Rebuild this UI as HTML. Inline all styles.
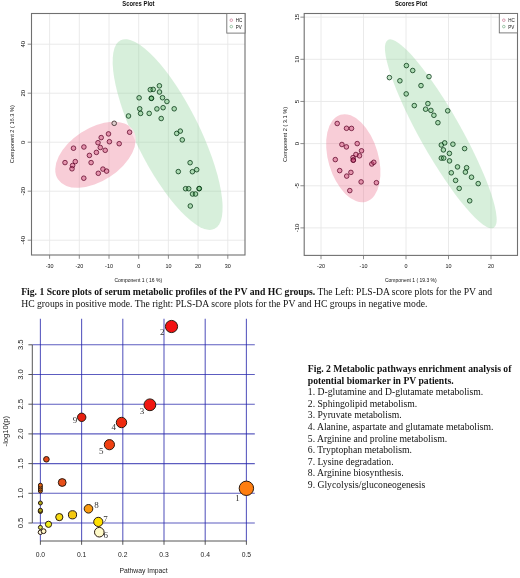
<!DOCTYPE html>
<html><head><meta charset="utf-8"><style>
html,body{margin:0;padding:0;background:#fff;}
body{width:520px;height:578px;position:relative;overflow:hidden;filter:blur(0.3px);}
svg{position:absolute;left:0;top:0;}
.tk{font-family:"Liberation Sans",sans-serif;font-size:6.1px;fill:#111;dominant-baseline:central;}
.ax{font-family:"Liberation Sans",sans-serif;font-size:5.65px;fill:#111;dominant-baseline:central;}
.ttl{font-family:"Liberation Sans",sans-serif;font-size:6.6px;font-weight:bold;fill:#111;}
.lg{font-family:"Liberation Sans",sans-serif;font-size:5.1px;fill:#111;}
.bt{font-family:"Liberation Sans",sans-serif;font-size:7.6px;fill:#222;dominant-baseline:central;}
.bt2{font-family:"Liberation Sans",sans-serif;font-size:7.0px;fill:#222;dominant-baseline:central;}
.bt3{font-family:"Liberation Sans",sans-serif;font-size:7.5px;fill:#222;dominant-baseline:central;}
.num{font-family:"Liberation Serif",serif;font-size:9px;fill:#333;}
.cap{position:absolute;font-family:"Liberation Serif",serif;font-size:9.67px;line-height:11.3px;color:#111;white-space:nowrap;}
.cap b{font-weight:bold;}
.f2{position:absolute;left:307.8px;top:363px;font-family:"Liberation Serif",serif;font-size:9.67px;line-height:11.6px;color:#111;white-space:nowrap;}
</style></head><body>
<svg width="520" height="578" viewBox="0 0 520 578">
<rect width="520" height="578" fill="#fff"/>
<line x1="49.6" y1="13.5" x2="49.6" y2="255" stroke="#e8e8e8" stroke-width="0.9"/>
<line x1="79.3" y1="13.5" x2="79.3" y2="255" stroke="#e8e8e8" stroke-width="0.9"/>
<line x1="109" y1="13.5" x2="109" y2="255" stroke="#e8e8e8" stroke-width="0.9"/>
<line x1="138.7" y1="13.5" x2="138.7" y2="255" stroke="#e8e8e8" stroke-width="0.9"/>
<line x1="168.4" y1="13.5" x2="168.4" y2="255" stroke="#e8e8e8" stroke-width="0.9"/>
<line x1="198.1" y1="13.5" x2="198.1" y2="255" stroke="#e8e8e8" stroke-width="0.9"/>
<line x1="227.8" y1="13.5" x2="227.8" y2="255" stroke="#e8e8e8" stroke-width="0.9"/>
<line x1="31.5" y1="240.2" x2="245.0" y2="240.2" stroke="#e8e8e8" stroke-width="0.9"/>
<line x1="31.5" y1="191.2" x2="245.0" y2="191.2" stroke="#e8e8e8" stroke-width="0.9"/>
<line x1="31.5" y1="142.2" x2="245.0" y2="142.2" stroke="#e8e8e8" stroke-width="0.9"/>
<line x1="31.5" y1="93.2" x2="245.0" y2="93.2" stroke="#e8e8e8" stroke-width="0.9"/>
<line x1="31.5" y1="44.2" x2="245.0" y2="44.2" stroke="#e8e8e8" stroke-width="0.9"/>
<defs><mask id="mg" maskUnits="userSpaceOnUse" x="0" y="0" width="520" height="300"><rect width="520" height="300" fill="#fff"/><ellipse cx="95.45" cy="154.74" rx="44.86" ry="26.4" transform="rotate(-33.28 95.45 154.74)" fill="#000"/></mask><clipPath id="cp"><ellipse cx="95.45" cy="154.74" rx="44.86" ry="26.4" transform="rotate(-33.28 95.45 154.74)"/></clipPath></defs>
<g mask="url(#mg)"><ellipse cx="167.63" cy="134.57" rx="105.35" ry="31.9" transform="rotate(63.51 167.63 134.57)" fill="rgba(141,209,152,0.35)"/></g>
<ellipse cx="95.45" cy="154.74" rx="44.86" ry="26.4" transform="rotate(-33.28 95.45 154.74)" fill="rgba(235,112,141,0.35)"/>
<g clip-path="url(#cp)"><ellipse cx="167.63" cy="134.57" rx="105.35" ry="31.9" transform="rotate(63.51 167.63 134.57)" fill="rgba(255,255,255,0.45)"/></g>
<circle cx="129.6" cy="132.2" r="2.3" fill="rgba(200,60,110,0.4)" stroke="rgba(90,0,35,0.78)" stroke-width="0.95"/>
<circle cx="108.5" cy="133.9" r="2.3" fill="rgba(200,60,110,0.4)" stroke="rgba(90,0,35,0.78)" stroke-width="0.95"/>
<circle cx="101.2" cy="137.6" r="2.3" fill="rgba(200,60,110,0.4)" stroke="rgba(90,0,35,0.78)" stroke-width="0.95"/>
<circle cx="98.0" cy="142.7" r="2.3" fill="rgba(200,60,110,0.4)" stroke="rgba(90,0,35,0.78)" stroke-width="0.95"/>
<circle cx="109.4" cy="141.7" r="2.3" fill="rgba(200,60,110,0.4)" stroke="rgba(90,0,35,0.78)" stroke-width="0.95"/>
<circle cx="119.2" cy="143.7" r="2.3" fill="rgba(200,60,110,0.4)" stroke="rgba(90,0,35,0.78)" stroke-width="0.95"/>
<circle cx="100.3" cy="147.5" r="2.3" fill="rgba(200,60,110,0.4)" stroke="rgba(90,0,35,0.78)" stroke-width="0.95"/>
<circle cx="105.2" cy="150.3" r="2.3" fill="rgba(200,60,110,0.4)" stroke="rgba(90,0,35,0.78)" stroke-width="0.95"/>
<circle cx="96.4" cy="152.4" r="2.3" fill="rgba(200,60,110,0.4)" stroke="rgba(90,0,35,0.78)" stroke-width="0.95"/>
<circle cx="83.9" cy="147.0" r="2.3" fill="rgba(200,60,110,0.4)" stroke="rgba(90,0,35,0.78)" stroke-width="0.95"/>
<circle cx="73.5" cy="148.2" r="2.3" fill="rgba(200,60,110,0.4)" stroke="rgba(90,0,35,0.78)" stroke-width="0.95"/>
<circle cx="89.4" cy="155.4" r="2.3" fill="rgba(200,60,110,0.4)" stroke="rgba(90,0,35,0.78)" stroke-width="0.95"/>
<circle cx="91.1" cy="162.6" r="2.3" fill="rgba(200,60,110,0.4)" stroke="rgba(90,0,35,0.78)" stroke-width="0.95"/>
<circle cx="75.3" cy="161.6" r="2.3" fill="rgba(200,60,110,0.4)" stroke="rgba(90,0,35,0.78)" stroke-width="0.95"/>
<circle cx="65.0" cy="162.6" r="2.3" fill="rgba(200,60,110,0.4)" stroke="rgba(90,0,35,0.78)" stroke-width="0.95"/>
<circle cx="72.6" cy="165.5" r="2.3" fill="rgba(200,60,110,0.4)" stroke="rgba(90,0,35,0.78)" stroke-width="0.95"/>
<circle cx="72.0" cy="168.8" r="2.3" fill="rgba(200,60,110,0.4)" stroke="rgba(90,0,35,0.78)" stroke-width="0.95"/>
<circle cx="102.9" cy="169.1" r="2.3" fill="rgba(200,60,110,0.4)" stroke="rgba(90,0,35,0.78)" stroke-width="0.95"/>
<circle cx="106.6" cy="171.1" r="2.3" fill="rgba(200,60,110,0.4)" stroke="rgba(90,0,35,0.78)" stroke-width="0.95"/>
<circle cx="98.3" cy="173.3" r="2.3" fill="rgba(200,60,110,0.4)" stroke="rgba(90,0,35,0.78)" stroke-width="0.95"/>
<circle cx="83.8" cy="178.2" r="2.3" fill="rgba(200,60,110,0.4)" stroke="rgba(90,0,35,0.78)" stroke-width="0.95"/>
<circle cx="128.5" cy="116.0" r="2.3" fill="rgba(90,180,100,0.35)" stroke="rgba(0,50,15,0.8)" stroke-width="0.95"/>
<circle cx="139.1" cy="97.8" r="2.3" fill="rgba(90,180,100,0.35)" stroke="rgba(0,50,15,0.8)" stroke-width="0.95"/>
<circle cx="139.7" cy="108.8" r="2.3" fill="rgba(90,180,100,0.35)" stroke="rgba(0,50,15,0.8)" stroke-width="0.95"/>
<circle cx="140.6" cy="113.4" r="2.3" fill="rgba(90,180,100,0.35)" stroke="rgba(0,50,15,0.8)" stroke-width="0.95"/>
<circle cx="149.2" cy="113.4" r="2.3" fill="rgba(90,180,100,0.35)" stroke="rgba(0,50,15,0.8)" stroke-width="0.95"/>
<circle cx="150.3" cy="89.7" r="2.3" fill="rgba(90,180,100,0.35)" stroke="rgba(0,50,15,0.8)" stroke-width="0.95"/>
<circle cx="153.2" cy="89.4" r="2.3" fill="rgba(90,180,100,0.35)" stroke="rgba(0,50,15,0.8)" stroke-width="0.95"/>
<circle cx="159.4" cy="85.8" r="2.3" fill="rgba(90,180,100,0.35)" stroke="rgba(0,50,15,0.8)" stroke-width="0.95"/>
<circle cx="159.5" cy="92.0" r="2.3" fill="rgba(90,180,100,0.35)" stroke="rgba(0,50,15,0.8)" stroke-width="0.95"/>
<circle cx="151.5" cy="98.2" r="2.3" fill="rgba(90,180,100,0.35)" stroke="rgba(0,50,15,0.8)" stroke-width="0.95"/>
<circle cx="151.3" cy="98.4" r="2.3" fill="rgba(90,180,100,0.35)" stroke="rgba(0,50,15,0.8)" stroke-width="0.95"/>
<circle cx="162.5" cy="97.7" r="2.3" fill="rgba(90,180,100,0.35)" stroke="rgba(0,50,15,0.8)" stroke-width="0.95"/>
<circle cx="166.9" cy="101.5" r="2.3" fill="rgba(90,180,100,0.35)" stroke="rgba(0,50,15,0.8)" stroke-width="0.95"/>
<circle cx="156.9" cy="108.9" r="2.3" fill="rgba(90,180,100,0.35)" stroke="rgba(0,50,15,0.8)" stroke-width="0.95"/>
<circle cx="163.1" cy="107.7" r="2.3" fill="rgba(90,180,100,0.35)" stroke="rgba(0,50,15,0.8)" stroke-width="0.95"/>
<circle cx="174.2" cy="108.8" r="2.3" fill="rgba(90,180,100,0.35)" stroke="rgba(0,50,15,0.8)" stroke-width="0.95"/>
<circle cx="161.2" cy="118.5" r="2.3" fill="rgba(90,180,100,0.35)" stroke="rgba(0,50,15,0.8)" stroke-width="0.95"/>
<circle cx="176.7" cy="133.4" r="2.3" fill="rgba(90,180,100,0.35)" stroke="rgba(0,50,15,0.8)" stroke-width="0.95"/>
<circle cx="180.3" cy="131.1" r="2.3" fill="rgba(90,180,100,0.35)" stroke="rgba(0,50,15,0.8)" stroke-width="0.95"/>
<circle cx="182.3" cy="139.9" r="2.3" fill="rgba(90,180,100,0.35)" stroke="rgba(0,50,15,0.8)" stroke-width="0.95"/>
<circle cx="190.1" cy="162.7" r="2.3" fill="rgba(90,180,100,0.35)" stroke="rgba(0,50,15,0.8)" stroke-width="0.95"/>
<circle cx="178.3" cy="171.6" r="2.3" fill="rgba(90,180,100,0.35)" stroke="rgba(0,50,15,0.8)" stroke-width="0.95"/>
<circle cx="192.4" cy="171.7" r="2.3" fill="rgba(90,180,100,0.35)" stroke="rgba(0,50,15,0.8)" stroke-width="0.95"/>
<circle cx="196.7" cy="169.7" r="2.3" fill="rgba(90,180,100,0.35)" stroke="rgba(0,50,15,0.8)" stroke-width="0.95"/>
<circle cx="185.6" cy="188.7" r="2.3" fill="rgba(90,180,100,0.35)" stroke="rgba(0,50,15,0.8)" stroke-width="0.95"/>
<circle cx="188.7" cy="188.7" r="2.3" fill="rgba(90,180,100,0.35)" stroke="rgba(0,50,15,0.8)" stroke-width="0.95"/>
<circle cx="199.1" cy="188.7" r="2.3" fill="rgba(90,180,100,0.35)" stroke="rgba(0,50,15,0.8)" stroke-width="0.95"/>
<circle cx="199.3" cy="188.5" r="2.3" fill="rgba(90,180,100,0.35)" stroke="rgba(0,50,15,0.8)" stroke-width="0.95"/>
<circle cx="192.5" cy="194.0" r="2.3" fill="rgba(90,180,100,0.35)" stroke="rgba(0,50,15,0.8)" stroke-width="0.95"/>
<circle cx="195.5" cy="194.0" r="2.3" fill="rgba(90,180,100,0.35)" stroke="rgba(0,50,15,0.8)" stroke-width="0.95"/>
<circle cx="190.3" cy="206.0" r="2.3" fill="rgba(90,180,100,0.35)" stroke="rgba(0,50,15,0.8)" stroke-width="0.95"/>
<circle cx="114.2" cy="123.3" r="2.3" fill="rgb(222,206,206)" stroke="rgb(80,62,62)" stroke-width="0.95"/>
<rect x="31.5" y="13.5" width="213.5" height="241.5" fill="none" stroke="#707070" stroke-width="1.1"/>
<line x1="49.6" y1="255" x2="49.6" y2="258.8" stroke="#707070" stroke-width="0.8"/>
<text x="0" y="0" class="tk" text-anchor="middle" transform="translate(49.6 265.5) scale(0.89 1)">-30</text>
<line x1="79.3" y1="255" x2="79.3" y2="258.8" stroke="#707070" stroke-width="0.8"/>
<text x="0" y="0" class="tk" text-anchor="middle" transform="translate(79.3 265.5) scale(0.89 1)">-20</text>
<line x1="109" y1="255" x2="109" y2="258.8" stroke="#707070" stroke-width="0.8"/>
<text x="0" y="0" class="tk" text-anchor="middle" transform="translate(109 265.5) scale(0.89 1)">-10</text>
<line x1="138.7" y1="255" x2="138.7" y2="258.8" stroke="#707070" stroke-width="0.8"/>
<text x="0" y="0" class="tk" text-anchor="middle" transform="translate(138.7 265.5) scale(0.89 1)">0</text>
<line x1="168.4" y1="255" x2="168.4" y2="258.8" stroke="#707070" stroke-width="0.8"/>
<text x="0" y="0" class="tk" text-anchor="middle" transform="translate(168.4 265.5) scale(0.89 1)">10</text>
<line x1="198.1" y1="255" x2="198.1" y2="258.8" stroke="#707070" stroke-width="0.8"/>
<text x="0" y="0" class="tk" text-anchor="middle" transform="translate(198.1 265.5) scale(0.89 1)">20</text>
<line x1="227.8" y1="255" x2="227.8" y2="258.8" stroke="#707070" stroke-width="0.8"/>
<text x="0" y="0" class="tk" text-anchor="middle" transform="translate(227.8 265.5) scale(0.89 1)">30</text>
<line x1="27.7" y1="240.2" x2="31.5" y2="240.2" stroke="#707070" stroke-width="0.8"/>
<text x="0" y="0" class="tk" text-anchor="middle" transform="translate(23.6 240.2) rotate(-90) scale(1 0.89)">-40</text>
<line x1="27.7" y1="191.2" x2="31.5" y2="191.2" stroke="#707070" stroke-width="0.8"/>
<text x="0" y="0" class="tk" text-anchor="middle" transform="translate(23.6 191.2) rotate(-90) scale(1 0.89)">-20</text>
<line x1="27.7" y1="142.2" x2="31.5" y2="142.2" stroke="#707070" stroke-width="0.8"/>
<text x="0" y="0" class="tk" text-anchor="middle" transform="translate(23.6 142.2) rotate(-90) scale(1 0.89)">0</text>
<line x1="27.7" y1="93.2" x2="31.5" y2="93.2" stroke="#707070" stroke-width="0.8"/>
<text x="0" y="0" class="tk" text-anchor="middle" transform="translate(23.6 93.2) rotate(-90) scale(1 0.89)">20</text>
<line x1="27.7" y1="44.2" x2="31.5" y2="44.2" stroke="#707070" stroke-width="0.8"/>
<text x="0" y="0" class="tk" text-anchor="middle" transform="translate(23.6 44.2) rotate(-90) scale(1 0.89)">40</text>
<text x="0" y="0" class="ax" text-anchor="middle" transform="translate(138.25 279.4) scale(0.89 1)">Component 1 ( 16 %)</text>
<text x="0" y="0" class="ax" text-anchor="middle" transform="translate(12.3 134.25) rotate(-90) scale(1 0.89)">Component 2 ( 16.3 %)</text>
<text x="0" y="0" class="ttl" text-anchor="middle" transform="translate(138.45 6) scale(0.89 1)">Scores Plot</text>
<rect x="226.8" y="13.5" width="18.2" height="19.6" fill="#fff" stroke="#707070" stroke-width="0.9"/>
<circle cx="231.3" cy="20.2" r="1.3" fill="none" stroke="#c06080" stroke-width="0.6"/>
<circle cx="231.3" cy="26.6" r="1.3" fill="none" stroke="#60a070" stroke-width="0.6"/>
<text x="0" y="0" class="lg" text-anchor="start" transform="translate(235.8 22.1) scale(0.89 1)">HC</text>
<text x="0" y="0" class="lg" text-anchor="start" transform="translate(235.8 28.5) scale(0.89 1)">PV</text>
<line x1="321" y1="13.5" x2="321" y2="255.4" stroke="#e8e8e8" stroke-width="0.9"/>
<line x1="363.5" y1="13.5" x2="363.5" y2="255.4" stroke="#e8e8e8" stroke-width="0.9"/>
<line x1="406" y1="13.5" x2="406" y2="255.4" stroke="#e8e8e8" stroke-width="0.9"/>
<line x1="448.5" y1="13.5" x2="448.5" y2="255.4" stroke="#e8e8e8" stroke-width="0.9"/>
<line x1="491" y1="13.5" x2="491" y2="255.4" stroke="#e8e8e8" stroke-width="0.9"/>
<line x1="304.2" y1="227.9" x2="517.5" y2="227.9" stroke="#e8e8e8" stroke-width="0.9"/>
<line x1="304.2" y1="185.75" x2="517.5" y2="185.75" stroke="#e8e8e8" stroke-width="0.9"/>
<line x1="304.2" y1="143.6" x2="517.5" y2="143.6" stroke="#e8e8e8" stroke-width="0.9"/>
<line x1="304.2" y1="101.45" x2="517.5" y2="101.45" stroke="#e8e8e8" stroke-width="0.9"/>
<line x1="304.2" y1="59.3" x2="517.5" y2="59.3" stroke="#e8e8e8" stroke-width="0.9"/>
<line x1="304.2" y1="17.15" x2="517.5" y2="17.15" stroke="#e8e8e8" stroke-width="0.9"/>
<ellipse cx="353.3" cy="158.2" rx="45.3" ry="25.0" transform="rotate(73.6 353.3 158.2)" fill="rgba(235,112,141,0.35)"/>
<ellipse cx="440.8" cy="133.8" rx="107.8" ry="20.6" transform="rotate(60.6 440.8 133.8)" fill="rgba(141,209,152,0.35)"/>
<circle cx="337.2" cy="123.5" r="2.3" fill="rgba(200,60,110,0.4)" stroke="rgba(90,0,35,0.78)" stroke-width="0.95"/>
<circle cx="346.5" cy="128.3" r="2.3" fill="rgba(200,60,110,0.4)" stroke="rgba(90,0,35,0.78)" stroke-width="0.95"/>
<circle cx="351.5" cy="128.4" r="2.3" fill="rgba(200,60,110,0.4)" stroke="rgba(90,0,35,0.78)" stroke-width="0.95"/>
<circle cx="341.9" cy="144.5" r="2.3" fill="rgba(200,60,110,0.4)" stroke="rgba(90,0,35,0.78)" stroke-width="0.95"/>
<circle cx="346.4" cy="146.9" r="2.3" fill="rgba(200,60,110,0.4)" stroke="rgba(90,0,35,0.78)" stroke-width="0.95"/>
<circle cx="357.2" cy="143.6" r="2.3" fill="rgba(200,60,110,0.4)" stroke="rgba(90,0,35,0.78)" stroke-width="0.95"/>
<circle cx="361.5" cy="150.8" r="2.3" fill="rgba(200,60,110,0.4)" stroke="rgba(90,0,35,0.78)" stroke-width="0.95"/>
<circle cx="359.5" cy="155.8" r="2.3" fill="rgba(200,60,110,0.4)" stroke="rgba(90,0,35,0.78)" stroke-width="0.95"/>
<circle cx="355.9" cy="154.5" r="2.3" fill="rgba(200,60,110,0.4)" stroke="rgba(90,0,35,0.78)" stroke-width="0.95"/>
<circle cx="353.0" cy="157.6" r="2.3" fill="rgba(200,60,110,0.4)" stroke="rgba(90,0,35,0.78)" stroke-width="0.95"/>
<circle cx="353.2" cy="160.3" r="2.3" fill="rgba(200,60,110,0.4)" stroke="rgba(90,0,35,0.78)" stroke-width="0.95"/>
<circle cx="353.4" cy="160.0" r="2.3" fill="rgba(200,60,110,0.4)" stroke="rgba(90,0,35,0.78)" stroke-width="0.95"/>
<circle cx="335.3" cy="159.6" r="2.3" fill="rgba(200,60,110,0.4)" stroke="rgba(90,0,35,0.78)" stroke-width="0.95"/>
<circle cx="371.8" cy="164.0" r="2.3" fill="rgba(200,60,110,0.4)" stroke="rgba(90,0,35,0.78)" stroke-width="0.95"/>
<circle cx="373.8" cy="162.3" r="2.3" fill="rgba(200,60,110,0.4)" stroke="rgba(90,0,35,0.78)" stroke-width="0.95"/>
<circle cx="339.7" cy="170.6" r="2.3" fill="rgba(200,60,110,0.4)" stroke="rgba(90,0,35,0.78)" stroke-width="0.95"/>
<circle cx="350.9" cy="172.4" r="2.3" fill="rgba(200,60,110,0.4)" stroke="rgba(90,0,35,0.78)" stroke-width="0.95"/>
<circle cx="346.7" cy="176.1" r="2.3" fill="rgba(200,60,110,0.4)" stroke="rgba(90,0,35,0.78)" stroke-width="0.95"/>
<circle cx="361.1" cy="181.9" r="2.3" fill="rgba(200,60,110,0.4)" stroke="rgba(90,0,35,0.78)" stroke-width="0.95"/>
<circle cx="376.4" cy="182.7" r="2.3" fill="rgba(200,60,110,0.4)" stroke="rgba(90,0,35,0.78)" stroke-width="0.95"/>
<circle cx="349.8" cy="190.6" r="2.3" fill="rgba(200,60,110,0.4)" stroke="rgba(90,0,35,0.78)" stroke-width="0.95"/>
<circle cx="406.4" cy="65.6" r="2.3" fill="rgba(90,180,100,0.35)" stroke="rgba(0,50,15,0.8)" stroke-width="0.95"/>
<circle cx="412.7" cy="70.5" r="2.3" fill="rgba(90,180,100,0.35)" stroke="rgba(0,50,15,0.8)" stroke-width="0.95"/>
<circle cx="389.4" cy="77.6" r="2.3" fill="rgba(90,180,100,0.35)" stroke="rgba(0,50,15,0.8)" stroke-width="0.95"/>
<circle cx="399.9" cy="80.8" r="2.3" fill="rgba(90,180,100,0.35)" stroke="rgba(0,50,15,0.8)" stroke-width="0.95"/>
<circle cx="429.0" cy="76.6" r="2.3" fill="rgba(90,180,100,0.35)" stroke="rgba(0,50,15,0.8)" stroke-width="0.95"/>
<circle cx="421.0" cy="85.6" r="2.3" fill="rgba(90,180,100,0.35)" stroke="rgba(0,50,15,0.8)" stroke-width="0.95"/>
<circle cx="406.2" cy="93.9" r="2.3" fill="rgba(90,180,100,0.35)" stroke="rgba(0,50,15,0.8)" stroke-width="0.95"/>
<circle cx="414.3" cy="105.6" r="2.3" fill="rgba(90,180,100,0.35)" stroke="rgba(0,50,15,0.8)" stroke-width="0.95"/>
<circle cx="427.9" cy="103.6" r="2.3" fill="rgba(90,180,100,0.35)" stroke="rgba(0,50,15,0.8)" stroke-width="0.95"/>
<circle cx="425.6" cy="109.2" r="2.3" fill="rgba(90,180,100,0.35)" stroke="rgba(0,50,15,0.8)" stroke-width="0.95"/>
<circle cx="430.9" cy="110.4" r="2.3" fill="rgba(90,180,100,0.35)" stroke="rgba(0,50,15,0.8)" stroke-width="0.95"/>
<circle cx="433.9" cy="115.3" r="2.3" fill="rgba(90,180,100,0.35)" stroke="rgba(0,50,15,0.8)" stroke-width="0.95"/>
<circle cx="447.7" cy="110.8" r="2.3" fill="rgba(90,180,100,0.35)" stroke="rgba(0,50,15,0.8)" stroke-width="0.95"/>
<circle cx="437.9" cy="122.7" r="2.3" fill="rgba(90,180,100,0.35)" stroke="rgba(0,50,15,0.8)" stroke-width="0.95"/>
<circle cx="441.3" cy="145.0" r="2.3" fill="rgba(90,180,100,0.35)" stroke="rgba(0,50,15,0.8)" stroke-width="0.95"/>
<circle cx="444.7" cy="142.9" r="2.3" fill="rgba(90,180,100,0.35)" stroke="rgba(0,50,15,0.8)" stroke-width="0.95"/>
<circle cx="452.9" cy="144.2" r="2.3" fill="rgba(90,180,100,0.35)" stroke="rgba(0,50,15,0.8)" stroke-width="0.95"/>
<circle cx="443.4" cy="149.9" r="2.3" fill="rgba(90,180,100,0.35)" stroke="rgba(0,50,15,0.8)" stroke-width="0.95"/>
<circle cx="464.6" cy="148.6" r="2.3" fill="rgba(90,180,100,0.35)" stroke="rgba(0,50,15,0.8)" stroke-width="0.95"/>
<circle cx="449.4" cy="153.4" r="2.3" fill="rgba(90,180,100,0.35)" stroke="rgba(0,50,15,0.8)" stroke-width="0.95"/>
<circle cx="441.3" cy="158.1" r="2.3" fill="rgba(90,180,100,0.35)" stroke="rgba(0,50,15,0.8)" stroke-width="0.95"/>
<circle cx="443.7" cy="158.1" r="2.3" fill="rgba(90,180,100,0.35)" stroke="rgba(0,50,15,0.8)" stroke-width="0.95"/>
<circle cx="449.5" cy="160.9" r="2.3" fill="rgba(90,180,100,0.35)" stroke="rgba(0,50,15,0.8)" stroke-width="0.95"/>
<circle cx="457.5" cy="166.9" r="2.3" fill="rgba(90,180,100,0.35)" stroke="rgba(0,50,15,0.8)" stroke-width="0.95"/>
<circle cx="466.6" cy="167.7" r="2.3" fill="rgba(90,180,100,0.35)" stroke="rgba(0,50,15,0.8)" stroke-width="0.95"/>
<circle cx="465.4" cy="172.1" r="2.3" fill="rgba(90,180,100,0.35)" stroke="rgba(0,50,15,0.8)" stroke-width="0.95"/>
<circle cx="451.3" cy="172.8" r="2.3" fill="rgba(90,180,100,0.35)" stroke="rgba(0,50,15,0.8)" stroke-width="0.95"/>
<circle cx="471.5" cy="177.2" r="2.3" fill="rgba(90,180,100,0.35)" stroke="rgba(0,50,15,0.8)" stroke-width="0.95"/>
<circle cx="455.6" cy="180.4" r="2.3" fill="rgba(90,180,100,0.35)" stroke="rgba(0,50,15,0.8)" stroke-width="0.95"/>
<circle cx="478.2" cy="183.6" r="2.3" fill="rgba(90,180,100,0.35)" stroke="rgba(0,50,15,0.8)" stroke-width="0.95"/>
<circle cx="459.2" cy="188.4" r="2.3" fill="rgba(90,180,100,0.35)" stroke="rgba(0,50,15,0.8)" stroke-width="0.95"/>
<circle cx="469.7" cy="200.8" r="2.3" fill="rgba(90,180,100,0.35)" stroke="rgba(0,50,15,0.8)" stroke-width="0.95"/>
<rect x="304.2" y="13.5" width="213.3" height="241.9" fill="none" stroke="#707070" stroke-width="1.1"/>
<line x1="321" y1="255.4" x2="321" y2="259.2" stroke="#707070" stroke-width="0.8"/>
<text x="0" y="0" class="tk" text-anchor="middle" transform="translate(321 265.9) scale(0.89 1)">-20</text>
<line x1="363.5" y1="255.4" x2="363.5" y2="259.2" stroke="#707070" stroke-width="0.8"/>
<text x="0" y="0" class="tk" text-anchor="middle" transform="translate(363.5 265.9) scale(0.89 1)">-10</text>
<line x1="406" y1="255.4" x2="406" y2="259.2" stroke="#707070" stroke-width="0.8"/>
<text x="0" y="0" class="tk" text-anchor="middle" transform="translate(406 265.9) scale(0.89 1)">0</text>
<line x1="448.5" y1="255.4" x2="448.5" y2="259.2" stroke="#707070" stroke-width="0.8"/>
<text x="0" y="0" class="tk" text-anchor="middle" transform="translate(448.5 265.9) scale(0.89 1)">10</text>
<line x1="491" y1="255.4" x2="491" y2="259.2" stroke="#707070" stroke-width="0.8"/>
<text x="0" y="0" class="tk" text-anchor="middle" transform="translate(491 265.9) scale(0.89 1)">20</text>
<line x1="300.4" y1="227.9" x2="304.2" y2="227.9" stroke="#707070" stroke-width="0.8"/>
<text x="0" y="0" class="tk" text-anchor="middle" transform="translate(297.1 227.9) rotate(-90) scale(1 0.89)">-10</text>
<line x1="300.4" y1="185.75" x2="304.2" y2="185.75" stroke="#707070" stroke-width="0.8"/>
<text x="0" y="0" class="tk" text-anchor="middle" transform="translate(297.1 185.75) rotate(-90) scale(1 0.89)">-5</text>
<line x1="300.4" y1="143.6" x2="304.2" y2="143.6" stroke="#707070" stroke-width="0.8"/>
<text x="0" y="0" class="tk" text-anchor="middle" transform="translate(297.1 143.6) rotate(-90) scale(1 0.89)">0</text>
<line x1="300.4" y1="101.45" x2="304.2" y2="101.45" stroke="#707070" stroke-width="0.8"/>
<text x="0" y="0" class="tk" text-anchor="middle" transform="translate(297.1 101.45) rotate(-90) scale(1 0.89)">5</text>
<line x1="300.4" y1="59.3" x2="304.2" y2="59.3" stroke="#707070" stroke-width="0.8"/>
<text x="0" y="0" class="tk" text-anchor="middle" transform="translate(297.1 59.3) rotate(-90) scale(1 0.89)">10</text>
<line x1="300.4" y1="17.15" x2="304.2" y2="17.15" stroke="#707070" stroke-width="0.8"/>
<text x="0" y="0" class="tk" text-anchor="middle" transform="translate(297.1 17.15) rotate(-90) scale(1 0.89)">15</text>
<text x="0" y="0" class="ax" text-anchor="middle" transform="translate(410.85 279.4) scale(0.89 1)">Component 1 ( 19.3 %)</text>
<text x="0" y="0" class="ax" text-anchor="middle" transform="translate(284.9 134.45) rotate(-90) scale(1 0.89)">Component 2 ( 3.1 %)</text>
<text x="0" y="0" class="ttl" text-anchor="middle" transform="translate(411.05 6) scale(0.89 1)">Scores Plot</text>
<rect x="499.3" y="13.5" width="18.2" height="19.4" fill="#fff" stroke="#707070" stroke-width="0.9"/>
<circle cx="503.8" cy="20.2" r="1.3" fill="none" stroke="#c06080" stroke-width="0.6"/>
<circle cx="503.8" cy="26.6" r="1.3" fill="none" stroke="#60a070" stroke-width="0.6"/>
<text x="0" y="0" class="lg" text-anchor="start" transform="translate(508.3 22.1) scale(0.89 1)">HC</text>
<text x="0" y="0" class="lg" text-anchor="start" transform="translate(508.3 28.5) scale(0.89 1)">PV</text>
<line x1="40.4" y1="318.8" x2="40.4" y2="541" stroke="rgba(35,35,170,0.74)" stroke-width="1.1"/>
<line x1="81.6" y1="318.8" x2="81.6" y2="541" stroke="rgba(35,35,170,0.74)" stroke-width="1.1"/>
<line x1="122.8" y1="318.8" x2="122.8" y2="541" stroke="rgba(35,35,170,0.74)" stroke-width="1.1"/>
<line x1="164" y1="318.8" x2="164" y2="541" stroke="rgba(35,35,170,0.74)" stroke-width="1.1"/>
<line x1="205.2" y1="318.8" x2="205.2" y2="541" stroke="rgba(35,35,170,0.74)" stroke-width="1.1"/>
<line x1="246.4" y1="318.8" x2="246.4" y2="541" stroke="rgba(35,35,170,0.74)" stroke-width="1.1"/>
<line x1="32.3" y1="523" x2="254.8" y2="523" stroke="rgba(35,35,170,0.74)" stroke-width="1.1"/>
<line x1="32.3" y1="493.3" x2="254.8" y2="493.3" stroke="rgba(35,35,170,0.74)" stroke-width="1.1"/>
<line x1="32.3" y1="463.6" x2="254.8" y2="463.6" stroke="rgba(35,35,170,0.74)" stroke-width="1.1"/>
<line x1="32.3" y1="433.9" x2="254.8" y2="433.9" stroke="rgba(35,35,170,0.74)" stroke-width="1.1"/>
<line x1="32.3" y1="404.2" x2="254.8" y2="404.2" stroke="rgba(35,35,170,0.74)" stroke-width="1.1"/>
<line x1="32.3" y1="374.5" x2="254.8" y2="374.5" stroke="rgba(35,35,170,0.74)" stroke-width="1.1"/>
<line x1="32.3" y1="344.8" x2="254.8" y2="344.8" stroke="rgba(35,35,170,0.74)" stroke-width="1.1"/>
<line x1="32.3" y1="344.8" x2="32.3" y2="523" stroke="#444" stroke-width="0.9"/>
<line x1="28.4" y1="523" x2="32.3" y2="523" stroke="#444" stroke-width="0.9"/>
<text x="0" y="0" class="bt" text-anchor="middle" transform="translate(21 523) rotate(-90) scale(1 0.89)">0.5</text>
<line x1="28.4" y1="493.3" x2="32.3" y2="493.3" stroke="#444" stroke-width="0.9"/>
<text x="0" y="0" class="bt" text-anchor="middle" transform="translate(21 493.3) rotate(-90) scale(1 0.89)">1.0</text>
<line x1="28.4" y1="463.6" x2="32.3" y2="463.6" stroke="#444" stroke-width="0.9"/>
<text x="0" y="0" class="bt" text-anchor="middle" transform="translate(21 463.6) rotate(-90) scale(1 0.89)">1.5</text>
<line x1="28.4" y1="433.9" x2="32.3" y2="433.9" stroke="#444" stroke-width="0.9"/>
<text x="0" y="0" class="bt" text-anchor="middle" transform="translate(21 433.9) rotate(-90) scale(1 0.89)">2.0</text>
<line x1="28.4" y1="404.2" x2="32.3" y2="404.2" stroke="#444" stroke-width="0.9"/>
<text x="0" y="0" class="bt" text-anchor="middle" transform="translate(21 404.2) rotate(-90) scale(1 0.89)">2.5</text>
<line x1="28.4" y1="374.5" x2="32.3" y2="374.5" stroke="#444" stroke-width="0.9"/>
<text x="0" y="0" class="bt" text-anchor="middle" transform="translate(21 374.5) rotate(-90) scale(1 0.89)">3.0</text>
<line x1="28.4" y1="344.8" x2="32.3" y2="344.8" stroke="#444" stroke-width="0.9"/>
<text x="0" y="0" class="bt" text-anchor="middle" transform="translate(21 344.8) rotate(-90) scale(1 0.89)">3.5</text>
<line x1="40.4" y1="541" x2="246.4" y2="541" stroke="#444" stroke-width="0.9"/>
<line x1="40.4" y1="541" x2="40.4" y2="544.8" stroke="#444" stroke-width="0.9"/>
<text x="0" y="0" class="bt" text-anchor="middle" transform="translate(40.4 553.9) scale(0.89 1)">0.0</text>
<line x1="81.6" y1="541" x2="81.6" y2="544.8" stroke="#444" stroke-width="0.9"/>
<text x="0" y="0" class="bt" text-anchor="middle" transform="translate(81.6 553.9) scale(0.89 1)">0.1</text>
<line x1="122.8" y1="541" x2="122.8" y2="544.8" stroke="#444" stroke-width="0.9"/>
<text x="0" y="0" class="bt" text-anchor="middle" transform="translate(122.8 553.9) scale(0.89 1)">0.2</text>
<line x1="164" y1="541" x2="164" y2="544.8" stroke="#444" stroke-width="0.9"/>
<text x="0" y="0" class="bt" text-anchor="middle" transform="translate(164 553.9) scale(0.89 1)">0.3</text>
<line x1="205.2" y1="541" x2="205.2" y2="544.8" stroke="#444" stroke-width="0.9"/>
<text x="0" y="0" class="bt" text-anchor="middle" transform="translate(205.2 553.9) scale(0.89 1)">0.4</text>
<line x1="246.4" y1="541" x2="246.4" y2="544.8" stroke="#444" stroke-width="0.9"/>
<text x="0" y="0" class="bt" text-anchor="middle" transform="translate(246.4 553.9) scale(0.89 1)">0.5</text>
<text x="0" y="0" class="bt" text-anchor="middle" transform="translate(143.5 570.8) scale(0.89 1)">Pathway Impact</text>
<text x="0" y="0" class="bt" text-anchor="middle" transform="translate(5.6 431.2) rotate(-90) scale(1 0.89)">-log10(p)</text>
<circle cx="40.4" cy="532.3" r="2.2" fill="#fffbe0" stroke="#2a1a10" stroke-width="1.0"/>
<circle cx="43.6" cy="531.2" r="2.4" fill="#fff6c8" stroke="#2a1a10" stroke-width="1.0"/>
<circle cx="40.4" cy="527.4" r="2.0" fill="#e0e450" stroke="#2a1a10" stroke-width="1.0"/>
<circle cx="48.5" cy="524.3" r="3.1" fill="#ecec1c" stroke="#2a1a10" stroke-width="1.0"/>
<circle cx="59.3" cy="517.1" r="3.6" fill="#f8dc10" stroke="#2a1a10" stroke-width="1.0"/>
<circle cx="72.5" cy="514.8" r="4.1" fill="#f4c810" stroke="#2a1a10" stroke-width="1.0"/>
<circle cx="40.4" cy="511.4" r="2.1" fill="#a8a018" stroke="#2a1a10" stroke-width="1.0"/>
<circle cx="40.4" cy="510.4" r="2.1" fill="#a8a018" stroke="#2a1a10" stroke-width="1.0"/>
<circle cx="40.4" cy="503.0" r="2.0" fill="#b0a818" stroke="#2a1a10" stroke-width="1.0"/>
<circle cx="40.4" cy="491.0" r="2.0" fill="#e07010" stroke="#2a1a10" stroke-width="1.0"/>
<circle cx="40.4" cy="489.0" r="2.0" fill="#e07010" stroke="#2a1a10" stroke-width="1.0"/>
<circle cx="40.4" cy="487.0" r="2.0" fill="#e06a10" stroke="#2a1a10" stroke-width="1.0"/>
<circle cx="40.4" cy="485.2" r="2.0" fill="#e06010" stroke="#2a1a10" stroke-width="1.0"/>
<circle cx="62.2" cy="482.5" r="3.9" fill="#e8501a" stroke="#2a1a10" stroke-width="1.0"/>
<circle cx="46.4" cy="459.3" r="2.8" fill="#e44a18" stroke="#2a1a10" stroke-width="1.0"/>
<circle cx="88.5" cy="508.8" r="4.3" fill="#fa9a10" stroke="#2a1a10" stroke-width="1.0"/>
<circle cx="98.3" cy="521.9" r="4.6" fill="#ffe000" stroke="#2a1a10" stroke-width="1.0"/>
<circle cx="99.3" cy="532.2" r="4.8" fill="#fffac8" stroke="#2a1a10" stroke-width="1.0"/>
<circle cx="109.4" cy="444.7" r="5.1" fill="#f04012" stroke="#2a1a10" stroke-width="1.0"/>
<circle cx="81.7" cy="417.3" r="4.2" fill="#e82010" stroke="#2a1a10" stroke-width="1.0"/>
<circle cx="121.5" cy="422.5" r="5.2" fill="#ee2a10" stroke="#2a1a10" stroke-width="1.0"/>
<circle cx="149.9" cy="404.8" r="5.9" fill="#f01612" stroke="#2a1a10" stroke-width="1.0"/>
<circle cx="171.5" cy="326.5" r="6.1" fill="#f21212" stroke="#2a1a10" stroke-width="1.0"/>
<circle cx="246.4" cy="488.3" r="7.2" fill="#ff7e10" stroke="#2a1a10" stroke-width="1.0"/>
<text x="237.6" y="500.6" class="num" text-anchor="middle">1</text>
<text x="162.3" y="334.8" class="num" text-anchor="middle">2</text>
<text x="142.1" y="414.0" class="num" text-anchor="middle">3</text>
<text x="113.8" y="429.8" class="num" text-anchor="middle">4</text>
<text x="101.3" y="454.3" class="num" text-anchor="middle">5</text>
<text x="105.8" y="538.4" class="num" text-anchor="middle">6</text>
<text x="105.4" y="522.1" class="num" text-anchor="middle">7</text>
<text x="96.4" y="508.2" class="num" text-anchor="middle">8</text>
<text x="75.0" y="423.0" class="num" text-anchor="middle">9</text>
</svg>
<div class="cap" id="c1" style="left:21.2px;top:285.8px;"><b>Fig. 1 Score plots of serum metabolic profiles of the PV and HC groups.</b> The Left: PLS-DA score plots for the PV and</div>
<div class="cap" id="c2" style="left:21.2px;top:297.6px;">HC groups in positive mode. The right: PLS-DA score plots for the PV and HC groups in negative mode.</div>
<div class="f2" id="f2">
<div id="f2a"><b>Fig. 2 Metabolic pathways enrichment analysis of</b></div>
<div id="f2b"><b>potential biomarker in PV patients.</b></div>
<div>1. D-glutamine and D-glutamate metabolism.</div>
<div>2. Sphingolipid metabolism.</div>
<div>3. Pyruvate metabolism.</div>
<div id="f2l4">4. Alanine, aspartate and glutamate metabolism.</div>
<div>5. Arginine and proline metabolism.</div>
<div>6. Tryptophan metabolism.</div>
<div>7. Lysine degradation.</div>
<div>8. Arginine biosynthesis.</div>
<div>9. Glycolysis/gluconeogenesis</div>
</div>
</body></html>
